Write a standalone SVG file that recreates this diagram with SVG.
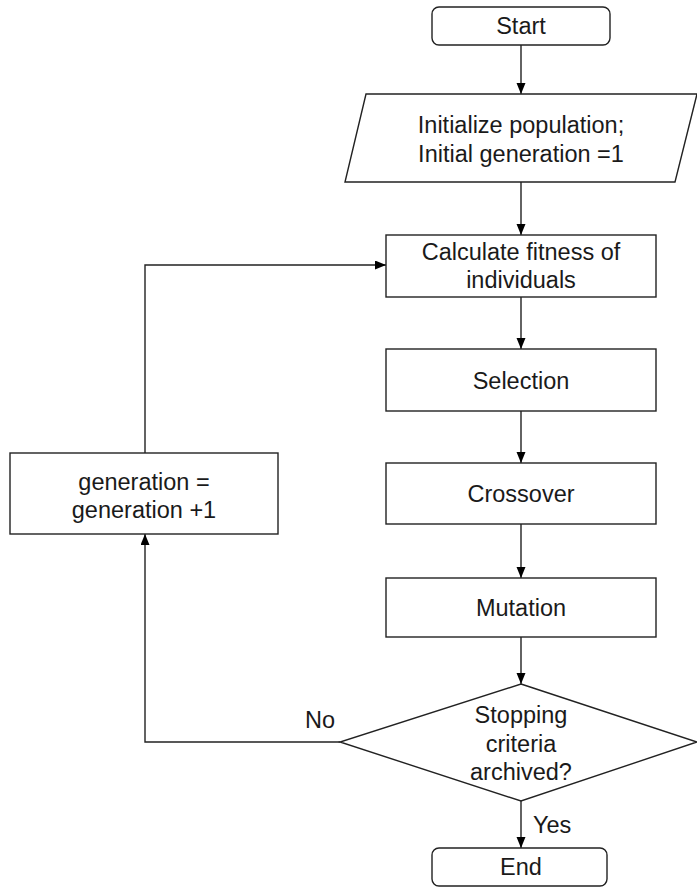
<svg xmlns="http://www.w3.org/2000/svg" width="697" height="889" viewBox="0 0 697 889">
  <defs>
    <marker id="arrow" markerUnits="userSpaceOnUse" markerWidth="11" markerHeight="10" refX="11" refY="4.5" orient="auto">
      <path d="M0,0 L11,4.5 L0,9 z" fill="#000"/>
    </marker>
    <style>
      .shape { fill: #fff; stroke: #222; stroke-width: 1.4; }
      .edge { fill: none; stroke: #222; stroke-width: 1.4; marker-end: url(#arrow); }
      text { font-family: "Liberation Sans", Arial, sans-serif; font-size: 23.5px; fill: #1a1a1a; }
      .c { text-anchor: middle; }
    </style>
  </defs>

  <rect width="697" height="889" fill="#fff"/>

  <g id="connectors">
    <line class="edge" x1="521" y1="45" x2="521" y2="94"/>
    <line class="edge" x1="521" y1="182" x2="521" y2="235"/>
    <line class="edge" x1="521" y1="297" x2="521" y2="349"/>
    <line class="edge" x1="521" y1="411" x2="521" y2="463"/>
    <line class="edge" x1="521" y1="524" x2="521" y2="578"/>
    <line class="edge" x1="521" y1="637" x2="521" y2="684"/>
    <line class="edge" x1="521" y1="801" x2="521" y2="848"/>
    <polyline class="edge" points="340,742 145,742 145,534"/>
    <polyline class="edge" points="145,453 145,265 386,265"/>
    <text x="320" y="728" class="c">No</text>
    <text x="533" y="833">Yes</text>
  </g>

  <g id="start">
    <rect class="shape" x="432" y="7" width="178" height="38" rx="7"/>
    <text x="521" y="34" class="c">Start</text>
  </g>

  <g id="init">
    <polygon class="shape" points="366,94 697,94 675,182 345,182"/>
    <text x="521" y="133" class="c">Initialize population;</text>
    <text x="521" y="162" class="c">Initial generation =1</text>
  </g>

  <g id="fitness">
    <rect class="shape" x="386" y="235" width="270" height="62"/>
    <text x="521" y="260" class="c">Calculate fitness of</text>
    <text x="521" y="288" class="c">individuals</text>
  </g>

  <g id="selection">
    <rect class="shape" x="386" y="349" width="270" height="62"/>
    <text x="521" y="389" class="c">Selection</text>
  </g>

  <g id="crossover">
    <rect class="shape" x="386" y="463" width="270" height="61"/>
    <text x="521" y="502" class="c">Crossover</text>
  </g>

  <g id="mutation">
    <rect class="shape" x="386" y="578" width="270" height="59"/>
    <text x="521" y="616" class="c">Mutation</text>
  </g>

  <g id="decision">
    <polygon class="shape" points="521,684 697,742 521,801 340,742"/>
    <text x="521" y="723" class="c">Stopping</text>
    <text x="521" y="752" class="c">criteria</text>
    <text x="521" y="780" class="c">archived?</text>
  </g>

  <g id="increment">
    <rect class="shape" x="10" y="453" width="268" height="81"/>
    <text x="144" y="490" class="c">generation =</text>
    <text x="144" y="518" class="c">generation +1</text>
  </g>

  <g id="end">
    <rect class="shape" x="432" y="848" width="175" height="38" rx="7"/>
    <text x="521" y="875" class="c">End</text>
  </g>
</svg>
